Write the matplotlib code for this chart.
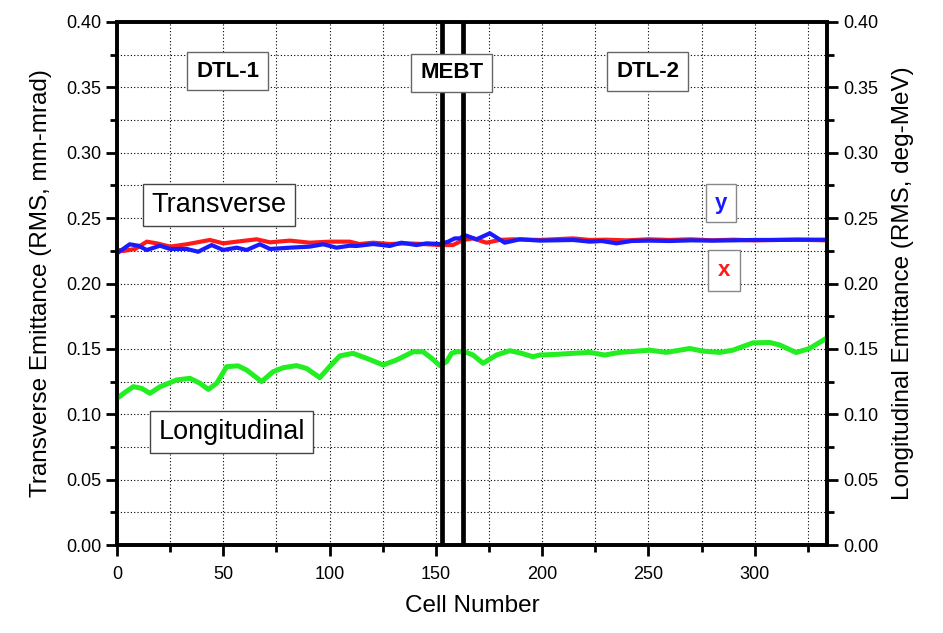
import matplotlib
matplotlib.use("Agg")
import matplotlib.pyplot as plt
from matplotlib.ticker import MultipleLocator, FormatStrFormatter

plt.rcParams['font.family'] = ['Liberation Sans', 'DejaVu Sans']

# Transverse x (red)
x_cells = [0, 3, 8.5, 14, 18.7, 25, 32.8, 43.7, 50, 56.3, 65.7, 72, 81.3, 90.7, 100, 109.5,
           114, 120.5, 128.3, 136.2, 144, 151.9, 158, 162.9, 167.5, 173.8, 180, 186.3, 199,
           214.5, 222.4, 230, 240, 250, 260, 270, 280, 290, 300, 310, 320, 334]
x_emit = [0.2260, 0.2249, 0.2264, 0.2320, 0.2307, 0.2282, 0.2300, 0.2333, 0.2307, 0.2320,
          0.2338, 0.2315, 0.2328, 0.2312, 0.2320, 0.2320, 0.2302, 0.2312, 0.2302, 0.2307,
          0.2302, 0.2294, 0.2294, 0.2333, 0.2345, 0.2312, 0.2333, 0.2338, 0.2333, 0.2345,
          0.2333, 0.2335, 0.2330, 0.2338, 0.2333, 0.2338, 0.2330, 0.2335, 0.2330, 0.2333,
          0.2335, 0.2330]

# Transverse y (blue)
y_cells = [0, 6, 10, 14, 20.2, 25, 32.8, 38.2, 44.5, 50, 56.3, 61, 67.2, 72, 81.3, 90.7, 97,
           103.3, 109.5, 112.7, 120.5, 128.3, 133.8, 140.9, 145.6, 151.9, 155.8, 158.9, 161.3,
           163.6, 169.1, 175.4, 182.4, 189.5, 198.9, 214.5, 222.4, 228, 235, 242, 250, 260,
           270, 280, 290, 300, 310, 320, 334]
y_emit = [0.2231, 0.2300, 0.2289, 0.2256, 0.2289, 0.2264, 0.2264, 0.2243, 0.2294, 0.2256,
          0.2274, 0.2256, 0.2300, 0.2264, 0.2274, 0.2282, 0.2300, 0.2274, 0.2289, 0.2287,
          0.2302, 0.2287, 0.2312, 0.2294, 0.2307, 0.2302, 0.2320, 0.2345, 0.2345, 0.2370,
          0.2338, 0.2384, 0.2312, 0.2338, 0.2328, 0.2333, 0.2320, 0.2325, 0.2307, 0.2325,
          0.2328, 0.2325, 0.2330, 0.2328, 0.2330, 0.2333, 0.2333, 0.2335, 0.2335]

# Longitudinal (green)
z_cells = [0, 4, 7.7, 11.6, 15.5, 20.2, 28, 34.3, 39, 43, 46.9, 51.6, 57, 61, 68, 73.5, 78.2,
           84.5, 89.2, 95.4, 100, 104.8, 111, 117.4, 125.2, 131.5, 139.3, 144, 148, 151.9,
           155, 157.4, 159.7, 163.6, 167.5, 172.2, 178.5, 184.8, 190.3, 195.7, 198.9, 206.7,
           214.5, 222.4, 229.4, 236.5, 250.6, 258.4, 269.4, 275.6, 283.5, 289.7, 299.1, 307,
           311.7, 319.5, 325.8, 333.6]
z_emit = [0.1122, 0.1170, 0.1211, 0.1198, 0.1160, 0.1210, 0.1262, 0.1275, 0.1237, 0.1190,
          0.1237, 0.1364, 0.1370, 0.1338, 0.1250, 0.1326, 0.1356, 0.1372, 0.1350, 0.1280,
          0.1364, 0.1446, 0.1466, 0.1428, 0.1377, 0.1415, 0.1478, 0.1478, 0.1428, 0.1372,
          0.1402, 0.1466, 0.1478, 0.1478, 0.1453, 0.1390, 0.1453, 0.1486, 0.1466, 0.1440,
          0.1453, 0.1458, 0.1466, 0.1473, 0.1453, 0.1473, 0.1490, 0.1473, 0.1503, 0.1483,
          0.1473, 0.1490, 0.1546, 0.1549, 0.1530, 0.1472, 0.1503, 0.1580]

section_bounds = [153, 163]

fig = plt.figure(figsize=(9.43, 6.33), dpi=100)
ax = fig.add_axes([117/943, 1-545/633, (827-117)/943, (545-22)/633])

ax.plot(x_cells, x_emit, color='#ff1a1a', lw=3.0, zorder=3, solid_joinstyle='round')
ax.plot(y_cells, y_emit, color='#1a1aff', lw=3.0, zorder=4, solid_joinstyle='round')
ax.plot(z_cells, z_emit, color='#22ee22', lw=3.6, zorder=3, solid_joinstyle='round')
for b in section_bounds:
    ax.axvline(b, color='black', lw=3.4, zorder=5)

ax.set_xlim(0, 334)
ax.set_ylim(0, 0.40)
ax.xaxis.set_major_locator(MultipleLocator(50))
ax.xaxis.set_minor_locator(MultipleLocator(25))
ax.yaxis.set_major_locator(MultipleLocator(0.05))
ax.yaxis.set_minor_locator(MultipleLocator(0.025))
ax.yaxis.set_major_formatter(FormatStrFormatter('%.2f'))
ax.grid(True, which='both', color='black', ls=(0, (1, 2)), lw=0.8, zorder=1)
ax.tick_params(which='major', direction='out', length=8, width=2, labelsize=13)
ax.tick_params(axis='x', which='major', pad=7)
ax.tick_params(which='minor', direction='out', length=5, width=2)
for s in ax.spines.values():
    s.set_linewidth(2.6)

ax.set_xlabel('Cell Number', fontsize=17.5, labelpad=9)
ax.set_ylabel('Transverse Emittance (RMS, mm-mrad)', fontsize=17.5, labelpad=10)

ax2 = ax.twinx()
ax2.set_ylim(0, 0.40)
ax2.yaxis.set_major_locator(MultipleLocator(0.05))
ax2.yaxis.set_minor_locator(MultipleLocator(0.025))
ax2.yaxis.set_major_formatter(FormatStrFormatter('%.2f'))
ax2.tick_params(which='major', direction='out', length=8, width=2, labelsize=13)
ax2.tick_params(which='minor', direction='out', length=5, width=2)
ax2.set_ylabel('Longitudinal Emittance (RMS, deg-MeV)', fontsize=17.5, labelpad=10)
for s in ax2.spines.values():
    s.set_linewidth(2.6)

box = dict(boxstyle='square,pad=0.4', facecolor='white', edgecolor='#666666', lw=1)
ax.text(52, 0.3625, 'DTL-1', fontsize=16, fontweight='bold', ha='center', va='center', bbox=box, zorder=6)
ax.text(157.5, 0.361, 'MEBT', fontsize=16, fontweight='bold', ha='center', va='center', bbox=box, zorder=6)
ax.text(249.6, 0.362, 'DTL-2', fontsize=16, fontweight='bold', ha='center', va='center', bbox=box, zorder=6)
ax.text(48, 0.260, 'Transverse', fontsize=19.5, ha='center', va='center',
        bbox=dict(boxstyle='square,pad=0.3', facecolor='white', edgecolor='#444444', lw=1), zorder=6)
ax.text(54, 0.0864, 'Longitudinal', fontsize=19.5, ha='center', va='center',
        bbox=dict(boxstyle='square,pad=0.3', facecolor='white', edgecolor='#444444', lw=1), zorder=6)
ax.text(284, 0.2615, 'y', fontsize=16, fontweight='bold', color='#1a1aff', ha='center', va='center',
        bbox=dict(boxstyle='square,pad=0.4', facecolor='white', edgecolor='#888888', lw=1), zorder=6)
ax.text(285.4, 0.210, 'x', fontsize=16, fontweight='bold', color='#ff1a1a', ha='center', va='center',
        bbox=dict(boxstyle='square,pad=0.45', facecolor='white', edgecolor='#888888', lw=1), zorder=6)

fig.savefig('out.png', dpi=100)
